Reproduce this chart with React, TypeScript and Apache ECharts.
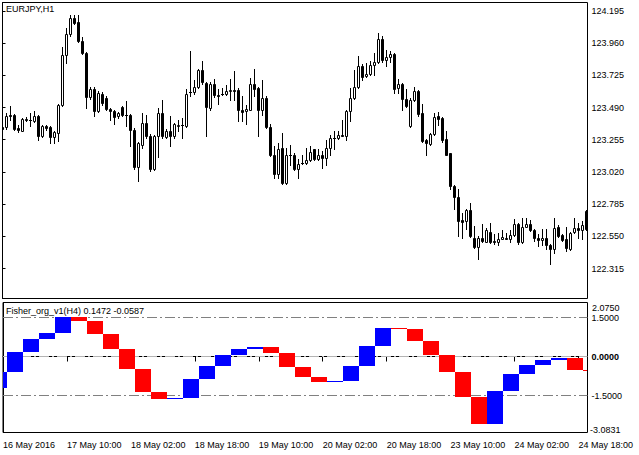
import React, { useEffect, useRef } from "react";
import * as echarts from "echarts";

const symbolTitle = "EURJPY,H1";
const indicatorTitle = "Fisher_org_v1(H4) 0.1472 -0.0587";

// H1 candles (EURJPY), first bar = 16 May 2016 18:00
const openP = [
  123.346, 123.346, 123.438, 123.438, 123.341, 123.322, 123.409, 123.402, 123.390, 123.431,
  123.281, 123.353, 123.346, 123.276, 123.305, 123.509, 123.875, 124.025, 124.142, 124.113,
  123.979, 123.887, 123.564, 123.625, 123.463, 123.589, 123.560, 123.480, 123.463, 123.426,
  123.494, 123.433, 123.433, 123.329, 123.055, 123.220, 123.378, 123.281, 123.043, 123.281,
  123.450, 123.276, 123.317, 123.281, 123.358, 123.362, 123.358, 123.600, 123.603, 123.637,
  123.766, 123.669, 123.487, 123.664, 123.584, 123.592, 123.589, 123.614, 123.620, 123.620,
  123.475, 123.467, 123.475, 123.664, 123.632, 123.475, 123.560, 123.346, 123.147, 123.007,
  123.196, 122.941, 123.142, 123.140, 123.043, 123.085, 123.087, 123.106, 123.184, 123.116,
  123.147, 123.123, 123.196, 123.269, 123.266, 123.290, 123.281, 123.467, 123.560, 123.640,
  123.795, 123.717, 123.737, 123.802, 123.822, 123.989, 123.834, 123.858, 123.882, 123.632,
  123.661, 123.552, 123.353, 123.547, 123.608, 123.450, 123.256, 123.225, 123.298, 123.426,
  123.414, 123.261, 123.155, 122.917, 122.837, 122.670, 122.662, 122.740, 122.541, 122.475,
  122.541, 122.512, 122.585, 122.513, 122.512, 122.534, 122.541, 122.534, 122.560, 122.643,
  122.505, 122.621, 122.638, 122.597, 122.536, 122.522, 122.541, 122.488, 122.456, 122.621,
  122.558, 122.534, 122.461, 122.582, 122.614, 122.594, 122.733,
];
const highP = [
  123.353, 123.450, 123.499, 123.445, 123.360, 123.414, 123.420, 123.450, 123.463, 123.436,
  123.360, 123.360, 123.353, 123.320, 123.515, 123.935, 124.069, 124.166, 124.166, 124.166,
  124.008, 123.895, 123.640, 123.640, 123.610, 123.600, 123.575, 123.487, 123.470, 123.460,
  123.505, 123.535, 123.440, 123.340, 123.240, 123.450, 123.438, 123.300, 123.290, 123.487,
  123.547, 123.330, 123.426, 123.380, 123.402, 123.414, 123.625, 123.904, 123.693, 123.775,
  123.831, 123.680, 123.675, 123.700, 123.625, 123.632, 123.657, 123.700, 123.758, 123.630,
  123.572, 123.511, 123.705, 123.773, 123.640, 123.693, 123.572, 123.373, 123.208, 123.232,
  123.305, 123.196, 123.220, 123.159, 123.116, 123.147, 123.196, 123.208, 123.190, 123.189,
  123.176, 123.256, 123.293, 123.317, 123.317, 123.397, 123.475, 123.632, 123.766, 123.863,
  123.805, 123.814, 123.831, 123.887, 124.032, 124.013, 123.911, 123.904, 123.890, 123.698,
  123.670, 123.625, 123.560, 123.640, 123.615, 123.518, 123.260, 123.305, 123.450, 123.455,
  123.420, 123.322, 123.159, 122.925, 122.893, 122.723, 122.752, 122.791, 122.626, 122.550,
  122.638, 122.614, 122.650, 122.565, 122.573, 122.597, 122.573, 122.594, 122.674, 122.650,
  122.686, 122.686, 122.670, 122.602, 122.565, 122.606, 122.602, 122.495, 122.682, 122.631,
  122.565, 122.621, 122.585, 122.686, 122.650, 122.662, 122.745,
];
const lowP = [
  123.305, 123.334, 123.402, 123.329, 123.310, 123.317, 123.390, 123.353, 123.385, 123.256,
  123.276, 123.329, 123.232, 123.232, 123.244, 123.500, 123.814, 124.010, 124.100, 123.970,
  123.880, 123.487, 123.555, 123.426, 123.455, 123.510, 123.470, 123.402, 123.373, 123.414,
  123.430, 123.353, 123.208, 123.040, 122.953, 123.196, 123.270, 123.030, 123.035, 123.130,
  123.270, 123.265, 123.208, 123.270, 123.322, 123.269, 123.350, 123.572, 123.589, 123.630,
  123.665, 123.281, 123.475, 123.570, 123.518, 123.580, 123.580, 123.547, 123.547, 123.390,
  123.390, 123.373, 123.470, 123.572, 123.281, 123.438, 123.340, 123.135, 122.977, 122.977,
  122.929, 122.935, 123.067, 123.033, 122.977, 123.080, 123.075, 123.099, 123.110, 123.106,
  123.050, 123.067, 123.147, 123.184, 123.260, 123.281, 123.256, 123.390, 123.555, 123.630,
  123.693, 123.710, 123.730, 123.730, 123.815, 123.826, 123.790, 123.826, 123.596, 123.596,
  123.470, 123.495, 123.345, 123.540, 123.426, 123.235, 123.147, 123.215, 123.290, 123.366,
  123.237, 123.140, 122.893, 122.747, 122.553, 122.541, 122.602, 122.545, 122.468, 122.388,
  122.510, 122.505, 122.500, 122.492, 122.485, 122.530, 122.530, 122.505, 122.555, 122.492,
  122.500, 122.615, 122.590, 122.517, 122.480, 122.485, 122.456, 122.347, 122.425, 122.545,
  122.518, 122.444, 122.451, 122.577, 122.541, 122.534, 122.595,
];
const closeP = [
  123.334, 123.431, 123.426, 123.336, 123.324, 123.409, 123.397, 123.400, 123.431, 123.281,
  123.353, 123.341, 123.276, 123.310, 123.509, 123.875, 124.025, 124.142, 124.110, 123.979,
  123.887, 123.564, 123.625, 123.463, 123.596, 123.523, 123.480, 123.463, 123.421, 123.450,
  123.438, 123.433, 123.329, 123.055, 123.230, 123.378, 123.281, 123.038, 123.281, 123.450,
  123.281, 123.317, 123.281, 123.370, 123.360, 123.363, 123.589, 123.603, 123.637, 123.766,
  123.674, 123.494, 123.664, 123.579, 123.572, 123.590, 123.608, 123.615, 123.608, 123.470,
  123.458, 123.480, 123.664, 123.625, 123.475, 123.560, 123.346, 123.142, 123.007, 123.189,
  122.941, 123.140, 123.140, 123.043, 123.079, 123.087, 123.106, 123.164, 123.116, 123.147,
  123.123, 123.196, 123.269, 123.270, 123.293, 123.286, 123.467, 123.560, 123.640, 123.795,
  123.710, 123.737, 123.802, 123.822, 123.989, 123.839, 123.858, 123.880, 123.627, 123.661,
  123.555, 123.504, 123.547, 123.608, 123.446, 123.244, 123.232, 123.298, 123.421, 123.407,
  123.256, 123.147, 122.917, 122.837, 122.662, 122.657, 122.740, 122.553, 122.473, 122.541,
  122.517, 122.594, 122.505, 122.512, 122.534, 122.546, 122.534, 122.560, 122.643, 122.505,
  122.621, 122.643, 122.597, 122.536, 122.522, 122.541, 122.485, 122.456, 122.614, 122.553,
  122.524, 122.468, 122.577, 122.614, 122.594, 122.631, 122.602,
];

// Fisher values on H4 (first entry = value before the first visible H4 block)
const fisherH4 = [
  -1.22, -0.58, 0.19, 0.68, 0.9, 1.51, 1.38, 0.87, 0.27, -0.47,
  -1.37, -1.63, -1.6, -0.88, -0.35, 0.06, 0.29, 0.38, 0.14, -0.41,
  -0.79, -0.99, -0.96, -0.35, 0.42, 1.09, 1.04, 0.58, 0.06, -0.58,
  -1.56, -2.59, -1.31, -0.67, -0.32, -0.15, -0.06, -0.5, -0.56,
];

const priceTicks = [124.195, 123.96, 123.725, 123.49, 123.255, 123.02, 122.785, 122.55, 122.315];
const fisherLabelTicks = [1.5, 0, -1.5];
const fisherMaxLabel = "2.0750";
const fisherMinLabel = "-3.0831";
const fisherLevels = [1.5, 0, -1.5];
const timeTickBars = [0, 16, 32, 48, 64, 80, 96, 112, 128, 144];
const timeTickLabels = [
  "16 May 2016", "17 May 10:00", "18 May 02:00", "18 May 18:00", "19 May 10:00",
  "20 May 02:00", "20 May 18:00", "23 May 10:00", "24 May 02:00", "24 May 18:00",
];

const FONT = "'Liberation Sans', Arial, sans-serif";
const X_MIN = 0;
const X_MAX = 146.25;
const P_MIN = 122.096;
const P_MAX = 124.257;
const F_MIN = -2.923;
const F_MAX = 2.077;

function buildBarTimes(count: number): number[] {
  const out: number[] = [];
  let t = Date.UTC(2016, 4, 16, 18);
  while (out.length < count) {
    const wd = new Date(t).getUTCDay();
    if (wd !== 0 && wd !== 6) out.push(t);
    t += 3600000;
  }
  return out;
}

export default function App() {
  const ref = useRef<HTMLDivElement>(null);

  useEffect(() => {
    if (!ref.current) return;
    const chart = echarts.init(ref.current, null, { renderer: "svg" });

    const n = openP.length;
    const barTimes = buildBarTimes(n);
    // H4 block index per H1 bar
    const blockIdx: number[] = [];
    let blk = -1;
    let lastBucket = -1;
    barTimes.forEach((t) => {
      const b = Math.floor(t / (4 * 3600000));
      if (b !== lastBucket) {
        blk += 1;
        lastBucket = b;
      }
      blockIdx.push(blk);
    });

    const candleData = openP.map((o, i) => [i, o, closeP[i], lowP[i], highP[i]]);
    const fisherData = blockIdx.map((k, i) => [i, fisherH4[k], fisherH4[k + 1]]);

    const axisFont = { fontFamily: FONT, fontSize: 9, color: "#000" };

    const option: any = {
      animation: false,
      backgroundColor: "#ffffff",
      grid: [
        { left: 2.5, top: 2.5, width: 585, height: 296, show: true, borderColor: "#000", borderWidth: 1, backgroundColor: "#fff" },
        { left: 2.5, top: 302.5, width: 585, height: 130, show: true, borderColor: "#000", borderWidth: 1, backgroundColor: "#fff" },
      ],
      xAxis: [
        { type: "value", gridIndex: 0, min: X_MIN, max: X_MAX, show: false, splitLine: { show: false } },
        {
          type: "value",
          gridIndex: 1,
          min: X_MIN,
          max: X_MAX,
          splitLine: { show: false },
          axisLine: { show: true, lineStyle: { color: "#000", width: 1 } },
          axisTick: { show: true, customValues: timeTickBars, length: 5, lineStyle: { color: "#000", width: 1 } },
          axisLabel: {
            ...axisFont,
            customValues: timeTickBars,
            align: "left",
            margin: 8,
            hideOverlap: false,
            formatter: (v: number) => {
              const k = timeTickBars.indexOf(Math.round(v));
              return k >= 0 ? timeTickLabels[k] : "";
            },
          },
        },
      ],
      yAxis: [
        {
          type: "value",
          gridIndex: 0,
          position: "right",
          min: P_MIN,
          max: P_MAX,
          splitLine: { show: false },
          axisLine: { show: true, lineStyle: { color: "#000", width: 1 } },
          axisTick: { show: true, customValues: priceTicks, length: 3, lineStyle: { color: "#000" } },
          axisLabel: { ...axisFont, customValues: priceTicks, margin: 4, formatter: (v: number) => v.toFixed(3) },
        },
        {
          type: "value",
          gridIndex: 1,
          position: "right",
          min: F_MIN,
          max: F_MAX,
          splitLine: { show: false },
          axisLine: { show: true, lineStyle: { color: "#000", width: 1 } },
          axisTick: { show: true, customValues: [F_MAX, ...fisherLabelTicks, F_MIN], length: 3, lineStyle: { color: "#000" } },
          axisLabel: {
            ...axisFont,
            customValues: fisherLabelTicks,
            margin: 4,
            formatter: (v: number) => (Math.abs(v) < 1e-9 ? "{b|0.0000}" : v.toFixed(4)),
            rich: { b: { fontFamily: FONT, fontSize: 9, fontWeight: "bold", color: "#000" } },
          },
        },
      ],
      graphic: [
        { type: "text", x: 6, y: 4, style: { text: symbolTitle, font: `9px ${FONT}`, fill: "#000", textVerticalAlign: "top" }, z: 100 },
        { type: "text", x: 6, y: 306, style: { text: indicatorTitle, font: `9px ${FONT}`, fill: "#000", textVerticalAlign: "top" }, z: 100 },
        { type: "text", x: 592, y: 303, style: { text: fisherMaxLabel, font: `9px ${FONT}`, fill: "#000", textVerticalAlign: "top" } },
        { type: "text", x: 590, y: 434, style: { text: fisherMinLabel, font: `9px ${FONT}`, fill: "#000", textVerticalAlign: "bottom" } },
      ],
      series: [
        {
          type: "custom",
          xAxisIndex: 0,
          yAxisIndex: 0,
          clip: true,
          z: 3,
          encode: { x: 0, y: [1, 2, 3, 4] },
          data: candleData,
          renderItem: (params: any, api: any) => {
            const i = api.value(0);
            const o = api.value(1);
            const c = api.value(2);
            const l = api.value(3);
            const h = api.value(4);
            const pO = api.coord([i, o]);
            const cx = Math.floor(pO[0]) + 0.5;
            const snap = (y: number) => Math.round(y) + 0.5;
            const yO = snap(pO[1]);
            const yC = snap(api.coord([i, c])[1]);
            const yH = snap(api.coord([i, h])[1]);
            const yL = snap(api.coord([i, l])[1]);
            const bull = c >= o;
            const top = Math.min(yO, yC);
            const bot = Math.max(yO, yC);
            const children: any[] = [
              { type: "line", shape: { x1: cx, y1: yH - 0.5, x2: cx, y2: yL + 0.5 }, style: { stroke: "#000", lineWidth: 1 } },
            ];
            if (bot - top < 1) {
              children.push({ type: "line", shape: { x1: cx - 1.5, y1: top, x2: cx + 1.5, y2: top }, style: { stroke: "#000", lineWidth: 1 } });
            } else {
              children.push({
                type: "rect",
                shape: { x: cx - 1, y: top, width: 2, height: bot - top },
                style: { fill: bull ? "#fff" : "#000", stroke: "#000", lineWidth: 1 },
              });
            }
            return { type: "group", children };
          },
        },
        ...fisherLevels.map((lv) => ({
          type: "line",
          xAxisIndex: 1,
          yAxisIndex: 1,
          silent: true,
          symbol: "none",
          z: 1,
          data: [
            [X_MIN, lv],
            [X_MAX, lv],
          ],
          lineStyle: { color: lv === 0 ? "#b4b4b4" : "#808080", width: 1, type: [10, 3, 2, 3] },
        })),
        {
          type: "custom",
          xAxisIndex: 1,
          yAxisIndex: 1,
          clip: true,
          z: 3,
          encode: { x: 0, y: [1, 2] },
          data: fisherData,
          renderItem: (params: any, api: any) => {
            const i = api.value(0);
            const prev = api.value(1);
            const cur = api.value(2);
            const p1 = api.coord([i, prev]);
            const p2 = api.coord([i, cur]);
            const cx = Math.floor(p1[0]) + 0.5;
            let y1 = Math.round(Math.min(p1[1], p2[1]));
            let y2 = Math.round(Math.max(p1[1], p2[1]));
            if (y2 - y1 < 1) y2 = y1 + 1;
            return {
              type: "rect",
              shape: { x: cx - 3.5, y: y1, width: 4, height: y2 - y1 },
              style: { fill: cur >= prev ? "#0000ff" : "#ff0000" },
            };
          },
        },
      ],
    };

    chart.setOption(option);
    return () => chart.dispose();
  }, []);

  return (
    <div
      ref={ref}
      style={{ position: "fixed", left: 0, top: 0, width: 639, height: 455, background: "#fff" }}
    />
  );
}
